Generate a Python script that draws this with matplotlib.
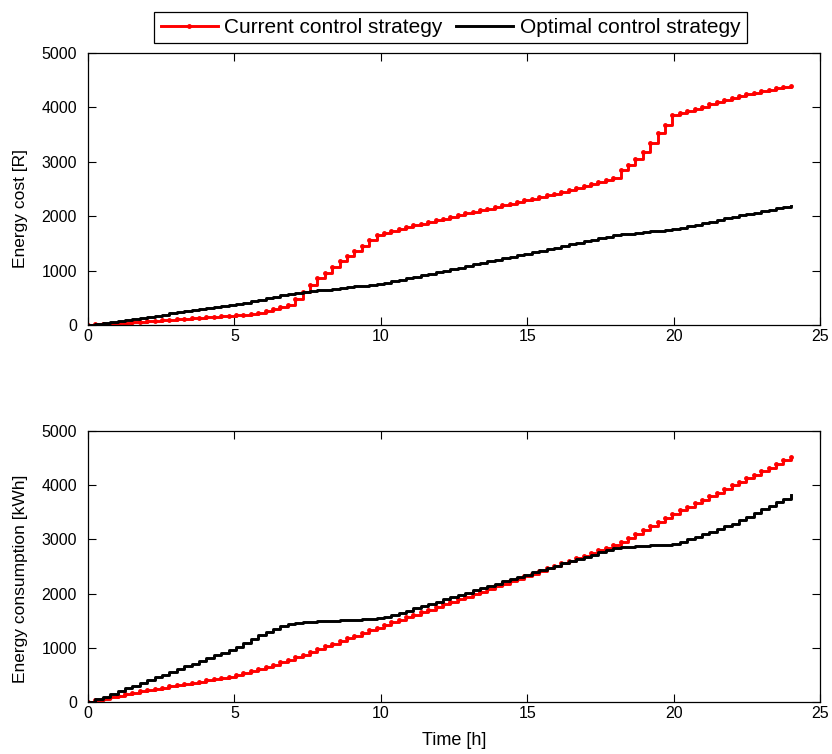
import numpy as np
import matplotlib
matplotlib.use("Agg")
import matplotlib.pyplot as plt

plt.rcParams['font.family'] = ['Liberation Sans', 'DejaVu Sans']

# 96 samples over the day (stairs, one per ~15 min)
time_h = np.linspace(0, 24, 96)

# cumulative energy cost [R]
cost_current = [
    0, 9, 18, 27, 35, 44, 53, 62, 71, 80, 88, 97, 106, 115, 124, 133, 141, 150, 159, 168,
    177, 192, 208, 226, 263, 294, 331, 368, 472, 613, 735, 858, 962, 1072, 1182, 1268,
    1360, 1452, 1562, 1654, 1697, 1734, 1768, 1800, 1832, 1864, 1895, 1926, 1957, 1988,
    2019, 2050, 2080, 2110, 2140, 2170, 2200, 2230, 2260, 2290, 2320, 2352, 2384, 2416,
    2448, 2480, 2512, 2548, 2585, 2622, 2660, 2696, 2849, 2941, 3045, 3186, 3351, 3523,
    3676, 3860, 3903, 3940, 3970, 4013, 4056, 4093, 4136, 4172, 4209, 4240, 4270, 4301,
    4325, 4350, 4374, 4399,
]
cost_optimal = [
    0, 19, 38, 58, 77, 96, 115, 134, 154, 173, 192, 211, 230, 250, 269, 288, 307, 326, 346, 365,
    386, 412, 439, 465, 492, 518, 545, 571, 594, 609, 623, 637, 652, 666, 681, 695,
    709, 724, 738, 752, 773, 801, 829, 858, 886, 914, 943, 971, 999, 1027,
    1056, 1084, 1112, 1141, 1169, 1197, 1225, 1254, 1282, 1310, 1339, 1367, 1395, 1424,
    1452, 1480, 1508, 1537, 1565, 1593, 1622, 1650, 1667, 1680, 1693, 1706, 1719, 1733,
    1746, 1759, 1785, 1814, 1843, 1872, 1901, 1930, 1960, 1989, 2015, 2040, 2066, 2092,
    2118, 2143, 2169, 2195,
]

# cumulative energy consumption [kWh]
energy_current = [
    0, 28, 56, 83, 111, 139, 167, 194, 222, 244, 266, 288, 310, 332, 354, 376, 398, 420, 442, 463,
    489, 527, 566, 604, 644, 689, 734, 779, 826, 875, 925, 975, 1025, 1074, 1124, 1174,
    1224, 1273, 1323, 1373, 1422, 1469, 1517, 1564, 1611, 1659, 1706, 1753, 1801, 1848,
    1896, 1943, 1990, 2038, 2085, 2132, 2180, 2227, 2274, 2322, 2369, 2417, 2464, 2511,
    2559, 2606, 2653, 2701, 2748, 2795, 2843, 2890, 2957, 3030, 3104, 3177, 3250, 3323,
    3397, 3470, 3537, 3602, 3668, 3734, 3799, 3865, 3931, 3997, 4062, 4128, 4194, 4259,
    4325, 4391, 4456, 4522,
]
energy_optimal = [
    0, 51, 101, 152, 202, 253, 303, 354, 404, 455, 505, 556, 606, 657, 707, 758, 808, 859, 909, 960,
    1023, 1091, 1159, 1227, 1295, 1355, 1396, 1436, 1466, 1473, 1480, 1486, 1493, 1500, 1507, 1514,
    1520, 1527, 1534, 1541, 1561, 1603, 1644, 1686, 1727, 1768, 1810, 1851, 1893, 1934,
    1976, 2017, 2058, 2100, 2141, 2183, 2224, 2266, 2307, 2348, 2390, 2431, 2473, 2514,
    2556, 2597, 2638, 2680, 2721, 2763, 2804, 2846, 2859, 2866, 2873, 2880, 2888, 2895,
    2902, 2909, 2950, 2998, 3046, 3094, 3142, 3190, 3238, 3286, 3351, 3418, 3485, 3552,
    3619, 3686, 3753, 3820,
]

fig = plt.figure(figsize=(8.32, 7.54), dpi=100)
ax1 = fig.add_axes([0.1058, 0.569, 0.8798, 0.3607])
ax2 = fig.add_axes([0.1058, 0.069, 0.8798, 0.3594])


def style_axes(ax, ylabel, label_y):
    ax.set_xlim(0, 25)
    ax.set_ylim(0, 5000)
    ax.set_xticks(range(0, 26, 5))
    ax.set_yticks(range(0, 5001, 1000))
    ax.tick_params(direction='in', length=6, width=0.8, top=True, right=True,
                   labelsize=11.5, colors='black')
    ax.tick_params(axis='x', pad=3)
    ax.tick_params(axis='y', pad=8)
    for sp in ax.spines.values():
        sp.set_linewidth(0.9)
    ax.set_ylabel(ylabel, fontsize=12.5)
    ax.yaxis.set_label_coords(-0.082, label_y)


l1, = ax1.plot(time_h, cost_current, color='red', lw=2.1, drawstyle='steps-post',
               marker='.', markersize=5, label='Current control strategy')
l2, = ax1.plot(time_h, cost_optimal, color='black', lw=2.1, drawstyle='steps-post',
               label='Optimal control strategy')
style_axes(ax1, 'Energy cost [R]', 0.43)

ax2.plot(time_h, energy_current, color='red', lw=2.1, drawstyle='steps-post',
         marker='.', markersize=5)
ax2.plot(time_h, energy_optimal, color='black', lw=2.1, drawstyle='steps-post')
style_axes(ax2, 'Energy consumption [kWh]', 0.455)
ax2.set_xlabel('Time [h]', fontsize=13, labelpad=8)

leg = fig.legend(handles=[l1, l2], loc='center', bbox_to_anchor=(0.5415, 0.9635),
                 ncol=2, fontsize=15, frameon=True, fancybox=False, framealpha=1,
                 edgecolor='black', handlelength=2.75, handletextpad=0.3,
                 columnspacing=0.65, borderpad=0.3, borderaxespad=0)
leg.get_frame().set_linewidth(0.9)

fig.savefig('out.png', dpi=100)
